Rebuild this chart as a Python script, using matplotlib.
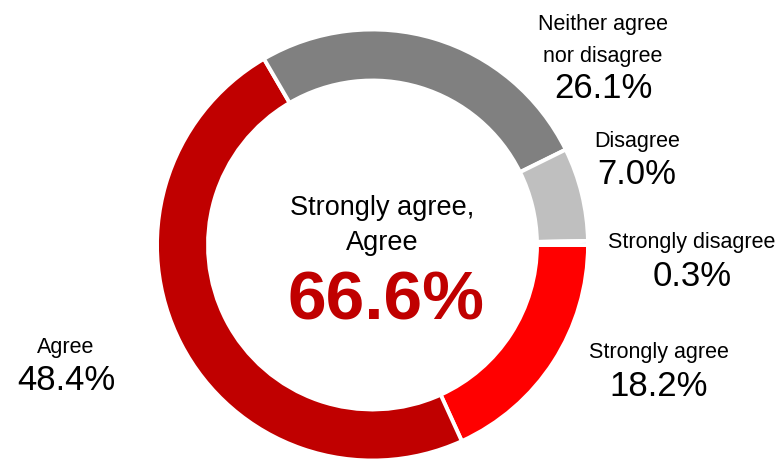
import matplotlib
matplotlib.use("Agg")
import matplotlib.pyplot as plt

## Datos
categorias = ["Strongly agree", "Agree", "Neither agree\nnor disagree", "Disagree", "Strongly disagree"]
valores = [18.2, 48.4, 26.1, 7.0, 0.3]
colores = ["#FF0000", "#C00000", "#808080", "#BFBFBF", "#8FAADC"]
total_agree = valores[0] + valores[1]

plt.rcParams["font.family"] = ["Liberation Sans Narrow", "Liberation Sans", "DejaVu Sans"]

W, H = 783, 459
fig = plt.figure(figsize=(W / 100, H / 100), dpi=100)
ax = fig.add_axes([0, 0, 1, 1])

## Dona
R = 215.5
cx, cy = 372.5, 245
ax.pie(valores, colors=colores, startangle=0, counterclock=False, radius=1,
       wedgeprops=dict(width=51 / R, edgecolor="white", linewidth=2.8))
ax.set_xlim(-cx / R, (W - cx) / R)
ax.set_ylim(-(H - cy) / R, cy / R)
ax.set_aspect("auto")
ax.axis("off")


def px(x, y):
    return x / W, 1 - y / H


def etiqueta(lineas, x, base_y, pct, pct_y):
    for i, l in enumerate(lineas):
        fig.text(*px(x, base_y + i * 32), l, ha="center", va="baseline", fontsize=15.5, color="black")
    fig.text(*px(x, pct_y), pct, ha="center", va="center", fontsize=25, color="black")


etiqueta(["Neither agree", "nor disagree"], 603, 30, f"{valores[2]:.1f}%", 89)
etiqueta(["Disagree"], 637, 147, f"{valores[3]:.1f}%", 175)
etiqueta(["Strongly disagree"], 692, 248, f"{valores[4]:.1f}%", 276)
etiqueta(["Strongly agree"], 659, 358, f"{valores[0]:.1f}%", 386)
etiqueta(["Agree"], 66, 353, f"{valores[1]:.1f}%", 381)

## Centro
fig.text(*px(382, 215), "Strongly agree,", ha="center", va="baseline", fontsize=19.5)
fig.text(*px(382, 250), "Agree", ha="center", va="baseline", fontsize=19.5)
fig.text(*px(386, 302), f"{total_agree:.1f}%", ha="center", va="center",
         fontsize=50, fontweight="bold", color="#C00000")

fig.savefig("out.png", dpi=100)
